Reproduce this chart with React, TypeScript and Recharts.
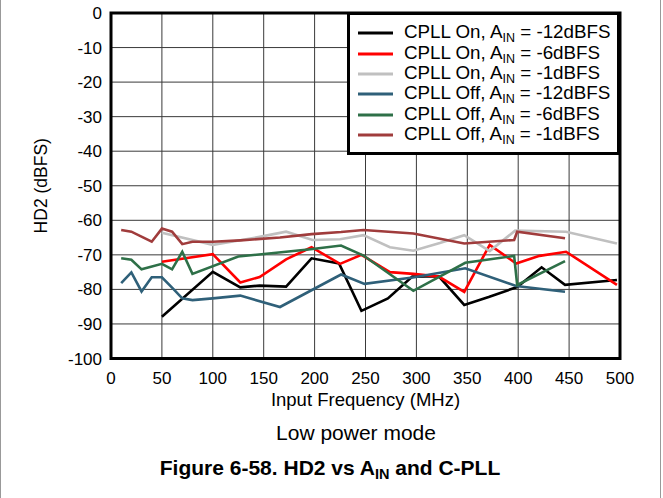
import React from 'react';
import { LineChart, Line, XAxis, YAxis, CartesianGrid, ReferenceArea, Legend, Label } from 'recharts';

// Frequencies (MHz) and HD2 (dBFS) per series
const onM12F = [50, 100, 127, 146, 172, 197, 224, 246, 272, 296, 322, 347, 371, 399, 423, 446, 497];
const onM12V = [-87.9, -74.9, -79.4, -78.9, -79.2, -71.0, -72.5, -86.2, -82.6, -76.3, -76.2, -84.5, -82.2, -79.3, -73.6, -78.7, -77.3];

const onM6F = [50, 100, 127, 146, 172, 197, 225, 246, 274, 297, 322, 347, 372, 398, 421, 447, 497];
const onM6V = [-72.0, -69.8, -78.0, -76.4, -71.3, -67.8, -72.6, -70.0, -75.0, -75.5, -76.3, -80.7, -67.1, -72.5, -70.3, -69.1, -78.7];

const onM1F = [50, 100, 127, 146, 172, 198, 225, 248, 274, 297, 323, 347, 372, 397, 447, 497];
const onM1V = [-63.6, -67.1, -65.8, -64.8, -63.3, -65.7, -65.5, -64.3, -67.8, -68.8, -66.6, -64.3, -68.9, -63.0, -63.3, -66.7];

const offM12F = [10, 20, 30, 40, 50, 60, 70, 80, 100, 127, 166, 226, 249, 298, 348, 398, 446];
const offM12V = [-78.2, -75.1, -80.6, -76.5, -76.5, -79.5, -82.6, -83.1, -82.6, -81.8, -85.1, -75.7, -78.4, -76.5, -73.9, -79.0, -80.7];

const offM6F = [10, 20, 30, 50, 60, 70, 80, 125, 196, 226, 248, 297, 348, 396, 399, 446];
const offM6V = [-71.0, -71.4, -74.2, -72.6, -74.2, -69.1, -75.5, -70.5, -68.4, -67.3, -70.2, -80.4, -72.3, -70.3, -78.7, -71.8];

const offM1F = [10, 20, 40, 50, 60, 70, 80, 100, 127, 166, 197, 226, 248, 297, 347, 396, 399, 446];
const offM1V = [-62.8, -63.3, -66.2, -62.4, -63.3, -66.9, -66.2, -66.2, -65.8, -65.0, -64.0, -63.4, -62.8, -63.8, -66.7, -65.7, -63.3, -65.2];

const xTicks = [0, 50, 100, 150, 200, 250, 300, 350, 400, 450, 500];
const yTicks = [-100, -90, -80, -70, -60, -50, -40, -30, -20, -10, 0];

const seriesNames = ['CPLL On', 'CPLL On', 'CPLL On', 'CPLL Off', 'CPLL Off', 'CPLL Off'];
const seriesAmps = ['-12dBFS', '-6dBFS', '-1dBFS', '-12dBFS', '-6dBFS', '-1dBFS'];
const seriesColors = ['#000000', '#ff0000', '#c0c0c0', '#2f6079', '#2e7048', '#a03c3c'];
const seriesF = [onM12F, onM6F, onM1F, offM12F, offM6F, offM1F];
const seriesV = [onM12V, onM6V, onM1V, offM12V, offM6V, offM1V];

const series = seriesF.map((fs, i) => ({
  key: 's' + i,
  name: seriesNames[i],
  amp: seriesAmps[i],
  color: seriesColors[i],
  data: fs.map((f, j) => ({ f, v: seriesV[i][j] })),
}));

const FONT = '"Liberation Sans", Arial, Helvetica, sans-serif';

const renderLegend = () => (
  <div
    style={{
      boxSizing: 'border-box',
      width: 273,
      height: 143,
      border: '3px solid #000',
      background: '#fff',
      paddingTop: 8,
      paddingLeft: 8,
      fontFamily: FONT,
      color: '#000',
    }}
  >
    {series.map((s) => (
      <div key={s.key} style={{ display: 'flex', alignItems: 'center', height: 20.4 }}>
        <svg width={35} height={4} style={{ display: 'block' }}>
          <line x1={0} y1={2} x2={35} y2={2} stroke={s.color} strokeWidth={3} />
        </svg>
        <span style={{ marginLeft: 11, fontSize: 18.8, lineHeight: '20px', whiteSpace: 'nowrap' }}>
          {s.name}, A<span style={{ fontSize: 12.5, position: 'relative', top: 4 }}>IN</span> = {s.amp}
        </span>
      </div>
    ))}
  </div>
);

export default function App() {
  return (
    <div style={{ position: 'absolute', left: 0, top: 0, width: 663, height: 498, background: '#fff', fontFamily: FONT }}>
      <div style={{ position: 'absolute', left: 0, top: 0, width: 1, height: 498, background: '#999' }} />
      <div style={{ position: 'absolute', left: 660, top: 0, width: 1, height: 498, background: '#999' }} />
      <LineChart
        width={663}
        height={498}
        margin={{ top: 13, right: 43, left: 0, bottom: 108 }}
        style={{ fontFamily: FONT }}
      >
        <CartesianGrid stroke="#3a3a3a" strokeWidth={1} />
        <XAxis
          type="number"
          dataKey="f"
          domain={[0, 500]}
          ticks={xTicks}
          allowDataOverflow
          height={31.5}
          tickLine={false}
          axisLine={false}
          tickSize={6}
          tickMargin={7}
          tick={{ fill: '#000', fontSize: 17, fontFamily: FONT }}
        >
          <Label value="Input Frequency (MHz)" position="bottom" offset={3} fill="#000" fontSize={18.5} fontFamily={FONT} />
        </XAxis>
        <YAxis
          type="number"
          domain={[-100, 0]}
          ticks={yTicks}
          allowDataOverflow
          width={111}
          tickLine={false}
          axisLine={false}
          tickSize={6}
          tickMargin={3}
          tick={{ fill: '#000', fontSize: 17, fontFamily: FONT }}
        >
          <Label value="HD2 (dBFS)" angle={-90} position="center" dx={-15} fill="#000" fontSize={17.5} fontFamily={FONT} />
        </YAxis>
        {series.map((s) => (
          <Line
            key={s.key}
            data={s.data}
            dataKey="v"
            name={s.key}
            type="linear"
            stroke={s.color}
            strokeWidth={2.6}
            dot={false}
            activeDot={false}
            isAnimationActive={false}
          />
        ))}
        <ReferenceArea x1={0} x2={500} y1={-100} y2={0} fill="none" fillOpacity={0} stroke="#000" strokeWidth={3} ifOverflow="visible" />
        <Legend
          layout="vertical"
          align="center"
          verticalAlign="middle"
          content={renderLegend}
          wrapperStyle={{ left: 347, top: 12, width: 273, height: 143 }}
        />
      </LineChart>
      <div style={{ position: 'absolute', left: 0, width: 712, top: 421, textAlign: 'center', fontSize: 21, color: '#000' }}>
        Low power mode
      </div>
      <div style={{ position: 'absolute', left: 0, width: 660, top: 456, textAlign: 'center', fontSize: 21, fontWeight: 'bold', color: '#000' }}>
        Figure 6-58. HD2 vs A<span style={{ fontSize: 14.5, position: 'relative', top: 4 }}>IN</span> and C-PLL
      </div>
    </div>
  );
}
